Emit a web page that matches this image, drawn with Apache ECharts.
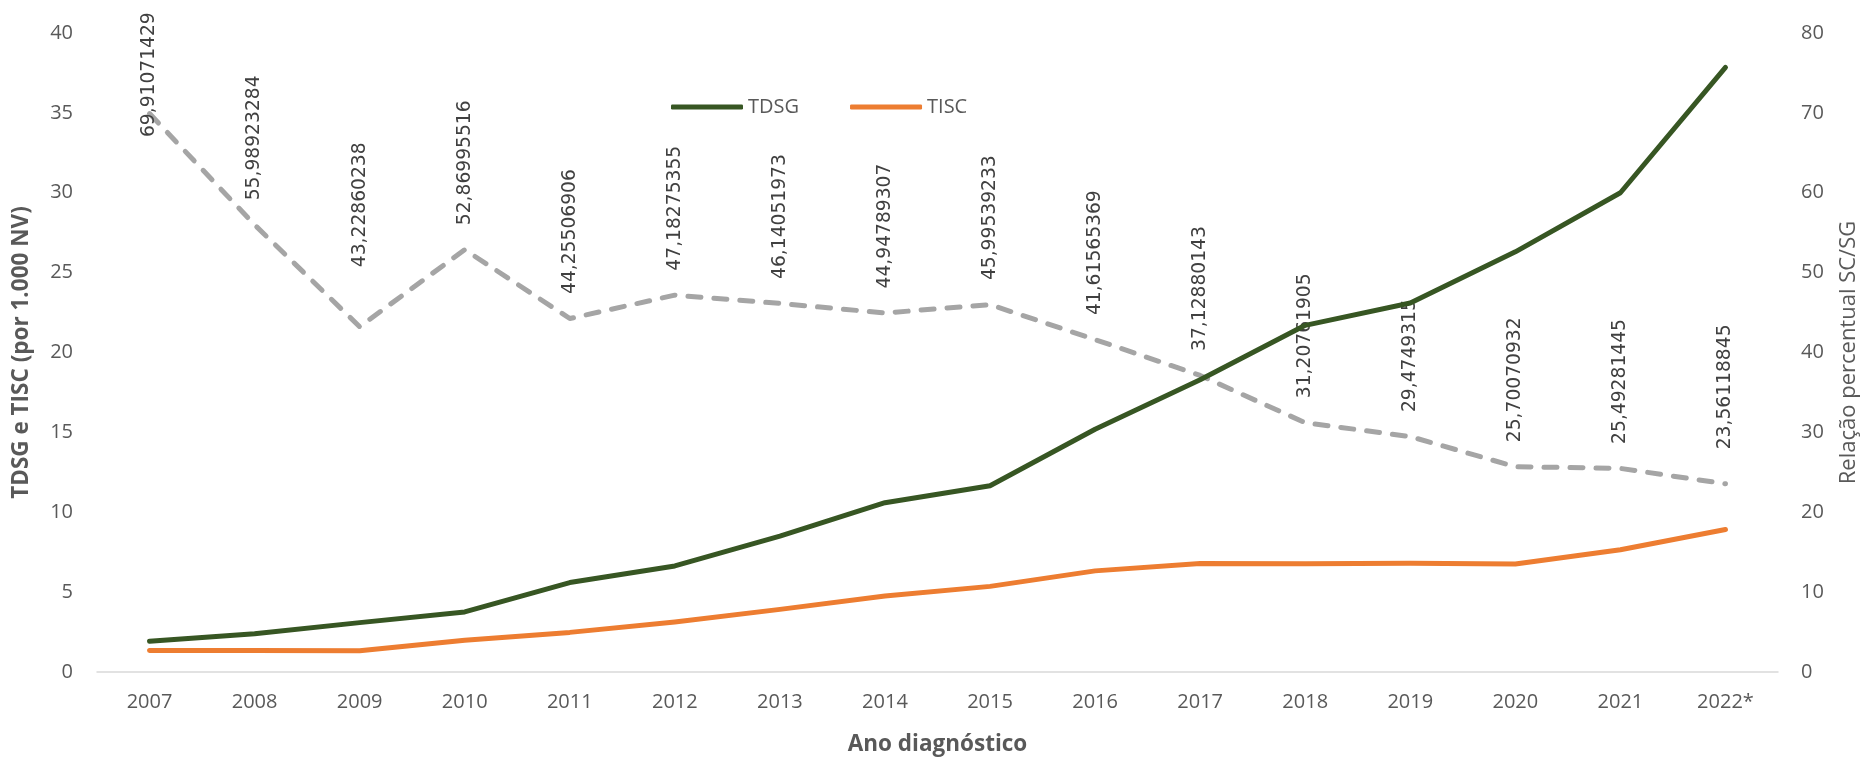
<!DOCTYPE html>
<html><head><meta charset="utf-8">
<script src="https://cdn.jsdelivr.net/npm/echarts@6/dist/echarts.min.js"></script>
<style>html,body{margin:0;padding:0;background:#fff}#c{width:1868px;height:761px}</style>
</head><body><div id="c"></div>
<script>
const years = ['2007','2008','2009','2010','2011','2012','2013','2014','2015','2016','2017','2018','2019','2020','2021','2022*'];
const tdsg = [1.92, 2.40, 3.09, 3.76, 5.60, 6.64, 8.50, 10.60, 11.66, 15.20, 18.30, 21.70, 23.10, 26.30, 30.00, 37.85];
const tisc = [1.34, 1.35, 1.33, 1.99, 2.48, 3.13, 3.92, 4.76, 5.36, 6.33, 6.79, 6.77, 6.81, 6.76, 7.65, 8.92];
const ratio = [69.91071429, 55.98923284, 43.22860238, 52.86995516, 44.25506906, 47.18275355, 46.14051973, 44.94789307, 45.99539233, 41.61565369, 37.12880143, 31.20761905, 29.4749315, 25.70070932, 25.49281445, 23.56118845];
const ratioLabels = ['69,91071429','55,98923284','43,22860238','52,86995516','44,25506906','47,18275355','46,14051973','44,94789307','45,99539233','41,61565369','37,12880143','31,20761905','29,4749315','25,70070932','25,49281445','23,56118845'];
const leftTicks = {min: 0, max: 40, interval: 5};
const rightTicks = {min: 0, max: 80, interval: 10};

// label nudges (style only): shift along text direction, in px (positive = up)
const labelNudge = {0: -48, 2: 35, 15: 10};

const FONT = 'Open Sans';
const GREY = '#595959';
const chart = echarts.init(document.getElementById('c'), null, {renderer: 'canvas'});
const ratioData = ratio.map((v, i) => (i in labelNudge) ? {value: v, label: {offset: [labelNudge[i], 0]}} : v);

chart.setOption({
  animation: false,
  backgroundColor: '#ffffff',
  grid: {left: 97, right: 89, top: 33, bottom: 83, containLabel: false},
  legend: {
    data: ['TDSG', 'TISC'],
    left: 666, top: 92,
    icon: 'roundRect', itemWidth: 72, itemHeight: 5, itemGap: 51,
    textStyle: {fontFamily: FONT, fontSize: 20, color: GREY}
  },
  xAxis: {
    type: 'category', data: years, boundaryGap: true,
    axisLine: {show: true, lineStyle: {color: '#D9D9D9', width: 1.5}},
    axisTick: {show: false},
    axisLabel: {fontFamily: FONT, fontSize: 20, color: GREY, margin: 20},
    name: 'Ano diagnóstico', nameLocation: 'middle', nameGap: 61,
    nameTextStyle: {fontFamily: FONT, fontSize: 22.5, fontWeight: 'bold', color: GREY}
  },
  yAxis: [{
    type: 'value', min: leftTicks.min, max: leftTicks.max, interval: leftTicks.interval,
    position: 'left',
    axisLine: {show: false}, axisTick: {show: false}, splitLine: {show: false},
    axisLabel: {fontFamily: FONT, fontSize: 20, color: GREY, margin: 24},
    name: 'TDSG e TISC (por 1.000 NV)', nameLocation: 'middle', nameGap: 64, nameRotate: 90,
    nameTextStyle: {fontFamily: FONT, fontSize: 22.5, fontWeight: 'bold', color: GREY}
  }, {
    type: 'value', min: rightTicks.min, max: rightTicks.max, interval: rightTicks.interval,
    position: 'right',
    axisLine: {show: false}, axisTick: {show: false}, splitLine: {show: false},
    axisLabel: {fontFamily: FONT, fontSize: 20, color: GREY, margin: 23},
    name: 'Relação percentual SC/SG', nameLocation: 'middle', nameGap: 60, nameRotate: 90,
    nameTextStyle: {fontFamily: FONT, fontSize: 22, color: GREY}
  }],
  series: [{
    name: 'SC/SG', type: 'line', yAxisIndex: 1, data: ratioData,
    symbol: 'circle', symbolSize: 1, showSymbol: true, z: 1,
    lineStyle: {color: '#A5A5A5', width: 5, type: [13, 13], cap: 'round', join: 'round'},
    itemStyle: {color: 'rgba(0,0,0,0)'},
    label: {
      show: true, position: 'top', distance: 24, rotate: 90, align: 'left', verticalAlign: 'middle',
      fontFamily: 'DejaVu Sans', fontSize: 18.7, color: '#404040',
      formatter: p => ratioLabels[p.dataIndex]
    }
  }, {
    name: 'TDSG', type: 'line', yAxisIndex: 0, data: tdsg, symbol: 'none', z: 3,
    lineStyle: {color: '#375623', width: 5, cap: 'round', join: 'round'},
    itemStyle: {color: '#375623'}
  }, {
    name: 'TISC', type: 'line', yAxisIndex: 0, data: tisc, symbol: 'none', z: 3,
    lineStyle: {color: '#ED7D31', width: 5, cap: 'round', join: 'round'},
    itemStyle: {color: '#ED7D31'}
  }]
});
</script></body></html>
